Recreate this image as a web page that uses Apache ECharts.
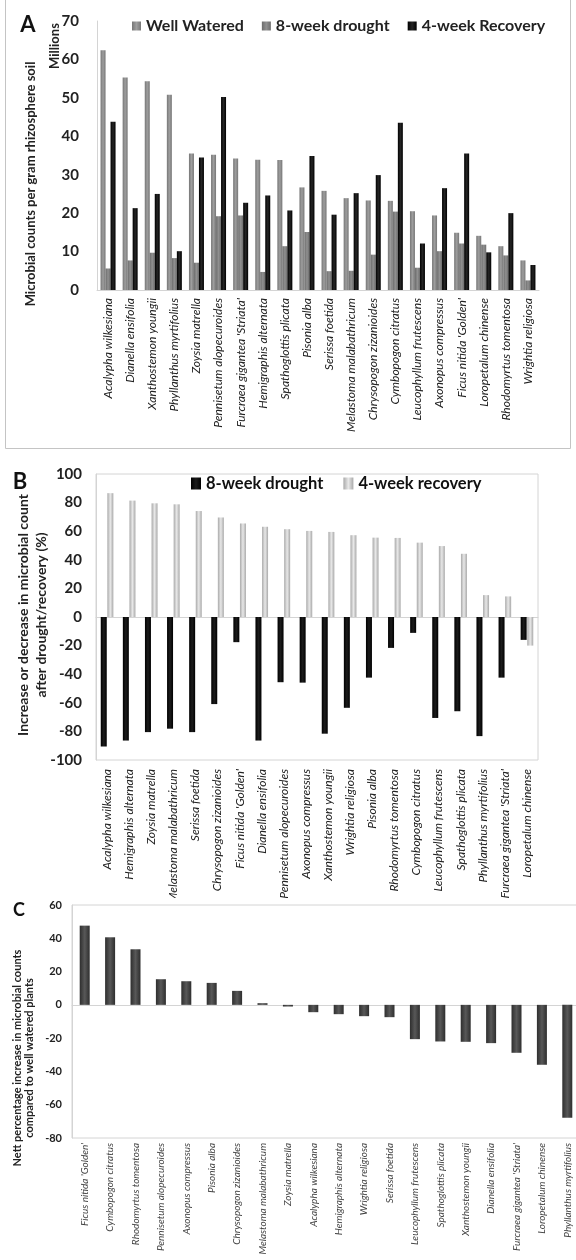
<!DOCTYPE html>
<html>
<head>
<meta charset="utf-8">
<script src="https://cdn.jsdelivr.net/npm/echarts@6/dist/echarts.min.js"></script>
<style>
body{margin:0;background:#fff;width:576px;height:1260px;position:relative;overflow:hidden}
.p{position:absolute;left:0;width:576px;overflow:hidden}
</style>
</head>
<body>
<div id="a" class="p" style="top:0;height:452px"></div>
<div id="b" class="p" style="top:452px;height:446px"></div>
<div id="c" class="p" style="top:898px;height:362px"></div>
<script>
// panel A: counts (millions per gram rhizosphere soil)
var catsA = ["Acalypha wilkesiana","Dianella ensifolia","Xanthostemon youngii","Phyllanthus myrtifolius","Zoysia matrella","Pennisetum alopecuroides","Furcraea gigantea 'Striata'","Hemigraphis alternata","Spathoglottis plicata","Pisonia alba","Serissa foetida","Melastoma malabathricum","Chrysopogon zizanioides","Cymbopogon citratus","Leucophyllum frutescens","Axonopus compressus","Ficus nitida 'Golden'","Loropetalum chinense","Rhodomyrtus tomentosa","Wrightia religiosa"];
var wellWatered = [62.4,55.3,54.3,50.8,35.5,35.2,34.2,33.9,33.8,26.7,25.8,23.9,23.3,23.2,20.5,19.4,14.9,14.1,11.4,7.7];
var drought8 = [5.6,7.7,9.7,8.3,7.1,19.2,19.4,4.7,11.4,15.1,4.9,5.0,9.2,20.4,5.8,10.1,12.1,11.8,9.0,2.5];
var recovery4 = [43.8,21.3,25.0,10.1,34.5,50.2,22.7,24.6,20.7,34.9,19.6,25.2,29.9,43.5,12.1,26.5,35.5,9.8,20.0,6.5];

// panel B: % change after drought / recovery
var catsB = ["Acalypha wilkesiana","Hemigraphis alternata","Zoysia matrella","Melastoma malabathricum","Serissa foetida","Chrysopogon zizanioides","Ficus nitida 'Golden'","Dianella ensifolia","Pennisetum alopecuroides","Axonopus compressus","Xanthostemon youngii","Wrightia religiosa","Pisonia alba","Rhodomyrtus tomentosa","Cymbopogon citratus","Leucophyllum frutescens","Spathoglottis plicata","Phyllanthus myrtifolius","Furcraea gigantea 'Striata'","Loropetalum chinense"];
var droughtPct = [-90.6,-86.4,-80.5,-78.1,-80.5,-60.9,-17.6,-86.4,-45.6,-45.9,-81.6,-63.5,-42.4,-21.6,-11.1,-70.6,-65.9,-83.3,-42.4,-16.0];
var recoveryPct = [86.6,81.4,79.5,78.8,74.1,69.6,65.4,63.1,61.4,60.2,59.5,57.2,55.5,55.3,52.0,49.6,44.2,15.3,14.4,-20.0];

// panel C: nett % vs well watered
var catsC = ["Ficus nitida 'Golden'","Cymbopogon citratus","Rhodomyrtus tomentosa","Pennisetum alopecuroides","Axonopus compressus","Pisonia alba","Chrysopogon zizanioides","Melastoma malabathricum","Zoysia matrella","Acalypha wilkesiana","Hemigraphis alternata","Wrightia religiosa","Serissa foetida","Leucophyllum frutescens","Spathoglottis plicata","Xanthostemon youngii","Dianella ensifolia","Furcraea gigantea 'Striata'","Loropetalum chinense","Phyllanthus myrtifolius"];
var nettPct = [47.6,40.6,33.4,15.4,14.2,13.2,8.4,1.0,-1.0,-4.4,-5.6,-6.8,-7.4,-20.6,-22.0,-22.2,-23.0,-28.8,-36.0,-67.8];

var font = 'Lato';
var axisGrey = '#d4d4d4';
function grad(edge, mid){
  return {type:'linear',x:0,y:0,x2:1,y2:0,colorStops:[{offset:0,color:edge},{offset:0.5,color:mid},{offset:1,color:edge}]};
}
function vtext(x, y, txt, size){
  return {type:'text', x:x, y:y, rotation:Math.PI/2,
    style:{text:txt, align:'center', verticalAlign:'middle', fontFamily:font, fontWeight:'bold', fontSize:size, fill:'#222'}};
}
function label(x, y, txt, size){
  return {type:'text', x:x, y:y,
    style:{text:txt, align:'center', verticalAlign:'middle', fontFamily:font, fontWeight:'bold', fontSize:size, fill:'#111'}};
}

// ---- A ----
var chartA = echarts.init(document.getElementById('a'));
chartA.setOption({
  animation:false,
  textStyle:{fontFamily:font},
  grid:{left:97, top:21, width:442, height:269, containLabel:false, outerBoundsMode:'none'},
  legend:{left:132, top:18, padding:0, itemWidth:9, itemHeight:9, itemGap:18, icon:'rect',
    textStyle:{fontFamily:font, fontWeight:'bold', fontSize:16, color:'#222'},
    data:['Well Watered','8-week drought','4-week Recovery']},
  graphic:[
    {type:'rect', shape:{x:5.5, y:-2, width:565, height:450.5}, style:{fill:'none', stroke:'#c4c4c4', lineWidth:1}},
    label(28, 25, 'A', 22),
    vtext(55, 46, 'Millions', 13),
    vtext(31, 184, 'Microbial counts per gram rhizosphere soil', 13)
  ],
  xAxis:{type:'category', data:catsA,
    axisLine:{lineStyle:{color:axisGrey}},
    axisTick:{length:4, lineStyle:{color:axisGrey}},
    axisLabel:{interval:0, rotate:90, margin:8, fontStyle:'italic', fontSize:12, color:'#222', fontFamily:font}},
  yAxis:{type:'value', min:0, max:70, interval:10,
    splitLine:{show:false}, axisLine:{show:true, lineStyle:{color:axisGrey}}, axisTick:{show:false},
    axisLabel:{fontWeight:'bold', fontSize:15, color:'#222', margin:18, fontFamily:font}},
  series:[
    {name:'Well Watered', type:'bar', data:wellWatered, barWidth:5, barGap:'0%', itemStyle:{color:grad('#767676','#9e9e9e')}},
    {name:'8-week drought', type:'bar', data:drought8, barWidth:5, barGap:'0%', itemStyle:{color:grad('#6c6c6c','#909090')}},
    {name:'4-week Recovery', type:'bar', data:recovery4, barWidth:5, barGap:'0%', itemStyle:{color:grad('#000','#262626')}}
  ]
});

// ---- B ----
var chartB = echarts.init(document.getElementById('b'));
chartB.setOption({
  animation:false,
  textStyle:{fontFamily:font},
  grid:{left:96, top:22, width:442, height:286, show:true, borderColor:axisGrey, borderWidth:1, containLabel:false, outerBoundsMode:'none'},
  legend:{left:191, top:23, padding:0, itemWidth:10, itemHeight:12, itemGap:20, icon:'rect',
    textStyle:{fontFamily:font, fontWeight:'bold', fontSize:16.5, color:'#111'},
    data:['8-week drought','4-week recovery']},
  graphic:[
    label(20, 30, 'B', 22),
    vtext(23, 163, 'Increase or decrease in microbial count', 14),
    vtext(41, 163, 'after drought/recovery (%)', 14)
  ],
  xAxis:[
    {type:'category', data:catsB, position:'bottom',
      axisLine:{show:false, onZero:false}, axisTick:{show:false},
      axisLabel:{interval:0, rotate:90, margin:9, fontStyle:'italic', fontSize:12, color:'#222', fontFamily:font}},
    {type:'category', data:catsB, position:'bottom',
      axisLine:{onZero:true, onZeroAxisIndex:0, lineStyle:{color:axisGrey}},
      axisTick:{length:3, lineStyle:{color:axisGrey}}, axisLabel:{show:false}}
  ],
  yAxis:{type:'value', min:-100, max:100, interval:20,
    splitLine:{show:false}, axisLine:{show:true, lineStyle:{color:axisGrey}}, axisTick:{show:false},
    axisLabel:{fontWeight:'bold', fontSize:15, color:'#222', margin:14, fontFamily:font}},
  series:[
    {name:'8-week drought', type:'bar', data:droughtPct, barWidth:6, barGap:'10%', itemStyle:{color:grad('#000','#1c1c1c')}},
    {name:'4-week recovery', type:'bar', data:recoveryPct, barWidth:6, barGap:'10%', itemStyle:{color:grad('#a9a9a9','#e8e8e8')}}
  ]
});

// ---- C ----
var chartC = echarts.init(document.getElementById('c'));
chartC.setOption({
  animation:false,
  textStyle:{fontFamily:font},
  grid:{left:72, top:7, width:508, height:233, show:true, borderColor:axisGrey, borderWidth:1, containLabel:false, outerBoundsMode:'none'},
  graphic:[
    label(19, 12, 'C', 18),
    vtext(17, 160, 'Nett percentage increase in microbial counts', 11),
    vtext(29, 160, 'compared to well watered plants', 11)
  ],
  xAxis:[
    {type:'category', data:catsC, position:'bottom',
      axisLine:{show:false, onZero:false}, axisTick:{show:false},
      axisLabel:{interval:0, rotate:90, margin:5, fontStyle:'italic', fontSize:10, color:'#444', fontFamily:font}},
    {type:'category', data:catsC, position:'bottom',
      axisLine:{onZero:true, onZeroAxisIndex:0, lineStyle:{color:axisGrey}},
      axisTick:{length:3, lineStyle:{color:axisGrey}}, axisLabel:{show:false}}
  ],
  yAxis:{type:'value', min:-80, max:60, interval:20,
    splitLine:{show:false}, axisLine:{show:true, lineStyle:{color:axisGrey}}, axisTick:{show:false},
    axisLabel:{fontWeight:'bold', fontSize:11, color:'#222', margin:10, fontFamily:font}},
  series:[
    {name:'Nett change', type:'bar', data:nettPct, barWidth:10, itemStyle:{color:grad('#2e2e2e','#585858')}}
  ]
});
</script>
</body>
</html>
